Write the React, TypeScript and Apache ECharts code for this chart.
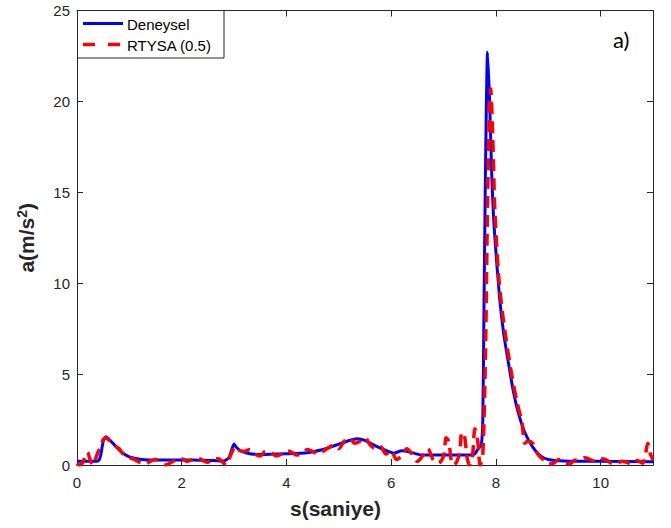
import React, { useEffect, useRef } from "react";
import * as echarts from "echarts";

const blueX = [0, 0.2, 0.4, 0.45, 0.5, 0.55, 0.6, 0.7, 0.8, 0.9, 1.0, 1.2, 1.4, 1.8, 2.2, 2.6, 2.8, 2.9, 2.95, 3.0, 3.05, 3.15, 3.3, 3.5, 4.0, 4.4, 4.7, 5.0, 5.2, 5.35, 5.5, 5.7, 5.9, 6.05, 6.2, 6.35, 6.5, 6.6, 7.0, 7.5, 7.6, 7.65, 7.72, 7.75, 7.77, 7.8, 7.84, 7.88, 7.92, 7.97, 8.07, 8.15, 8.24, 8.33, 8.43, 8.55, 8.7, 8.85, 9.0, 9.3, 10.0, 11.0];
const blueY = [0.2, 0.2, 0.22, 0.5, 1.3, 1.55, 1.45, 1.15, 0.85, 0.6, 0.45, 0.32, 0.28, 0.27, 0.28, 0.25, 0.22, 0.4, 0.8, 1.15, 0.95, 0.75, 0.62, 0.58, 0.62, 0.68, 0.85, 1.15, 1.35, 1.45, 1.35, 1.05, 0.8, 0.65, 0.78, 0.72, 0.6, 0.55, 0.55, 0.55, 0.62, 0.85, 1.1, 2.5, 8, 16, 22.7, 20, 16, 12.9, 9.2, 7.2, 5.6, 4.1, 2.85, 1.8, 1.0, 0.5, 0.3, 0.22, 0.2, 0.18];

const redX = [0, 0.05, 0.1, 0.15, 0.2, 0.25, 0.3, 0.35, 0.4, 0.45, 0.5, 0.55, 0.6, 0.7, 0.8, 0.9, 1.0, 1.1, 1.2, 1.3, 1.4, 1.5, 1.6, 1.7, 1.8, 1.9, 2.0, 2.1, 2.2, 2.3, 2.4, 2.5, 2.6, 2.7, 2.8, 2.85, 2.9, 3.0, 3.05, 3.1, 3.2, 3.3, 3.4, 3.5, 3.6, 3.7, 3.8, 3.9, 4.0, 4.1, 4.2, 4.3, 4.4, 4.5, 4.6, 4.7, 4.8, 4.9, 5.0, 5.1, 5.2, 5.3, 5.4, 5.5, 5.6, 5.7, 5.8, 5.9, 6.0, 6.1, 6.2, 6.3, 6.4, 6.5, 6.6, 6.7, 6.8, 6.9, 7.0, 7.05, 7.1, 7.15, 7.2, 7.3, 7.35, 7.4, 7.45, 7.5, 7.55, 7.6, 7.65, 7.7, 7.75, 7.8, 7.85, 7.9, 7.94, 7.98, 8.05, 8.12, 8.2, 8.3, 8.4, 8.5, 8.55, 8.6, 8.7, 8.8, 8.9, 9.0, 9.1, 9.2, 9.3, 9.4, 9.5, 9.6, 9.7, 9.8, 9.9, 10.0, 10.1, 10.2, 10.3, 10.4, 10.5, 10.6, 10.7, 10.8, 10.85, 10.9, 10.95, 11.0];
const redY = [0.1, 0.0, 0.1, 0.4, 0.7, 0.3, 0.0, 0.3, 0.7, 1.0, 1.4, 1.5, 1.4, 1.1, 0.9, 0.55, 0.4, 0.3, 0.15, 0.05, 0.2, 0.3, 0.15, 0.0, 0.15, 0.3, 0.35, 0.2, 0.3, 0.4, 0.25, 0.15, 0.35, 0.35, 0.1, 0.0, 0.3, 0.95, 1.0, 0.8, 0.75, 0.85, 0.6, 0.5, 0.75, 0.7, 0.5, 0.6, 0.8, 0.7, 0.55, 0.65, 0.85, 0.75, 0.6, 0.75, 0.95, 1.1, 0.9, 1.3, 1.5, 1.2, 1.3, 1.5, 1.1, 0.9, 1.0, 0.6, 0.8, 0.3, 0.5, 0.9, 0.6, 0.2, 0.5, 0.9, 0.3, 0.1, 0.5, 1.5, 1.3, 0.2, 0.0, 0.6, 1.8, 1.6, 0.4, 0.0, 0.4, 2.0, 1.4, 0.0, 0.6, 6, 16, 20.7, 18, 14, 10.5, 8.5, 6.8, 5.0, 3.5, 2.3, 1.2, 1.3, 1.2, 0.6, 0.3, 0.05, 0.1, 0.3, 0.15, 0.05, 0.25, 0.3, 0.4, 0.3, 0.2, 0.35, 0.3, 0.1, 0.05, 0.2, 0.15, 0.05, 0.25, 0.1, 0.5, 1.2, 0.6, 0.3];

const xTicks = { min: 0, max: 11, interval: 2 };
const yTicks = { min: 0, max: 25, interval: 5 };
const seriesNames = ["Deneysel", "RTYSA (0.5)"];

const AX = "#262626";
const FONT = "'Liberation Sans', Arial, Helvetica, sans-serif";

export default function App() {
  const ref = useRef<HTMLDivElement>(null);
  useEffect(() => {
    const chart = echarts.init(ref.current!, null, { renderer: "svg" });
    const blue = blueX.map((x, i) => [x, blueY[i]]);
    const red = redX.map((x, i) => [x, redY[i]]);
    const axisCommon = {
      axisLine: { show: true, onZero: false, lineStyle: { color: AX, width: 1 } },
      axisTick: { show: true, inside: true, length: 6, lineStyle: { color: AX } },
      splitLine: { show: false },
    };
    chart.setOption({
      animation: false,
      backgroundColor: "#ffffff",
      grid: { left: 77, right: 18, top: 10.5, bottom: 63, show: false },
      xAxis: [
        {
          type: "value",
          ...xTicks,
          ...axisCommon,
          axisLabel: { color: AX, fontFamily: FONT, fontSize: 15, margin: 10, showMaxLabel: false },
        },
        {
          type: "value",
          position: "top",
          ...xTicks,
          ...axisCommon,
          axisLabel: { show: false },
        },
      ],
      yAxis: [
        {
          type: "value",
          ...yTicks,
          ...axisCommon,
          axisLabel: { color: AX, fontFamily: FONT, fontSize: 15, margin: 7 },
          name: "{a|a(m/s}{s|2}{a|)}",
          nameLocation: "middle",
          nameGap: 40,
          nameRotate: 90,
          nameTextStyle: {
            rich: {
              a: { fontFamily: FONT, fontSize: 21, fontWeight: "bold", color: AX },
              s: { fontFamily: FONT, fontSize: 14, fontWeight: "bold", color: AX, verticalAlign: "top", padding: [0, 0, 8, 0] },
            },
          },
        },
        {
          type: "value",
          position: "right",
          ...yTicks,
          ...axisCommon,
          axisLabel: { show: false },
        },
      ],
      series: [
        {
          name: seriesNames[0],
          type: "line",
          data: blue,
          showSymbol: false,
          smooth: 0.2,
          lineStyle: { color: "#0000ff", width: 3 },
          z: 2,
        },
        {
          name: seriesNames[1],
          type: "line",
          data: red,
          showSymbol: false,
          smooth: 0.3,
          lineStyle: { color: "#ff0000", width: 3.5, type: [12, 7] },
          z: 3,
        },
      ],
      graphic: [
        {
          type: "text",
          left: "center",
          top: 498,
          style: { text: "s(saniye)", font: `bold 21px ${FONT}`, fill: AX },
        },
        {
          type: "text",
          x: 613,
          y: 28,
          style: { text: "a)", font: `22px Lato, 'Open Sans', sans-serif`, fill: "#000" },
          z: 100,
        },
        {
          type: "group",
          z: 100,
          children: [
            {
              type: "rect",
              shape: { x: 77.5, y: 10.5, width: 146.5, height: 47.5 },
              style: { fill: "#fff", stroke: AX, lineWidth: 1 },
              z: 100,
            },
            {
              type: "line",
              shape: { x1: 83, y1: 23.5, x2: 123, y2: 23.5 },
              style: { stroke: "#0000ff", lineWidth: 3 },
              z: 101,
            },
            {
              type: "line",
              shape: { x1: 83, y1: 44.5, x2: 123, y2: 44.5 },
              style: { stroke: "#ff0000", lineWidth: 3.5, lineDash: [12, 13] },
              z: 101,
            },
            {
              type: "text",
              x: 127,
              y: 24,
              style: { text: seriesNames[0], font: `15px ${FONT}`, fill: "#000", verticalAlign: "middle" },
              z: 101,
            },
            {
              type: "text",
              x: 127,
              y: 45,
              style: { text: seriesNames[1], font: `15px ${FONT}`, fill: "#000", verticalAlign: "middle" },
              z: 101,
            },
          ],
        },
      ],
    });
    return () => chart.dispose();
  }, []);
  return (
    <div
      ref={ref}
      style={{ position: "absolute", left: 0, top: 0, width: 671, height: 528 }}
    />
  );
}
